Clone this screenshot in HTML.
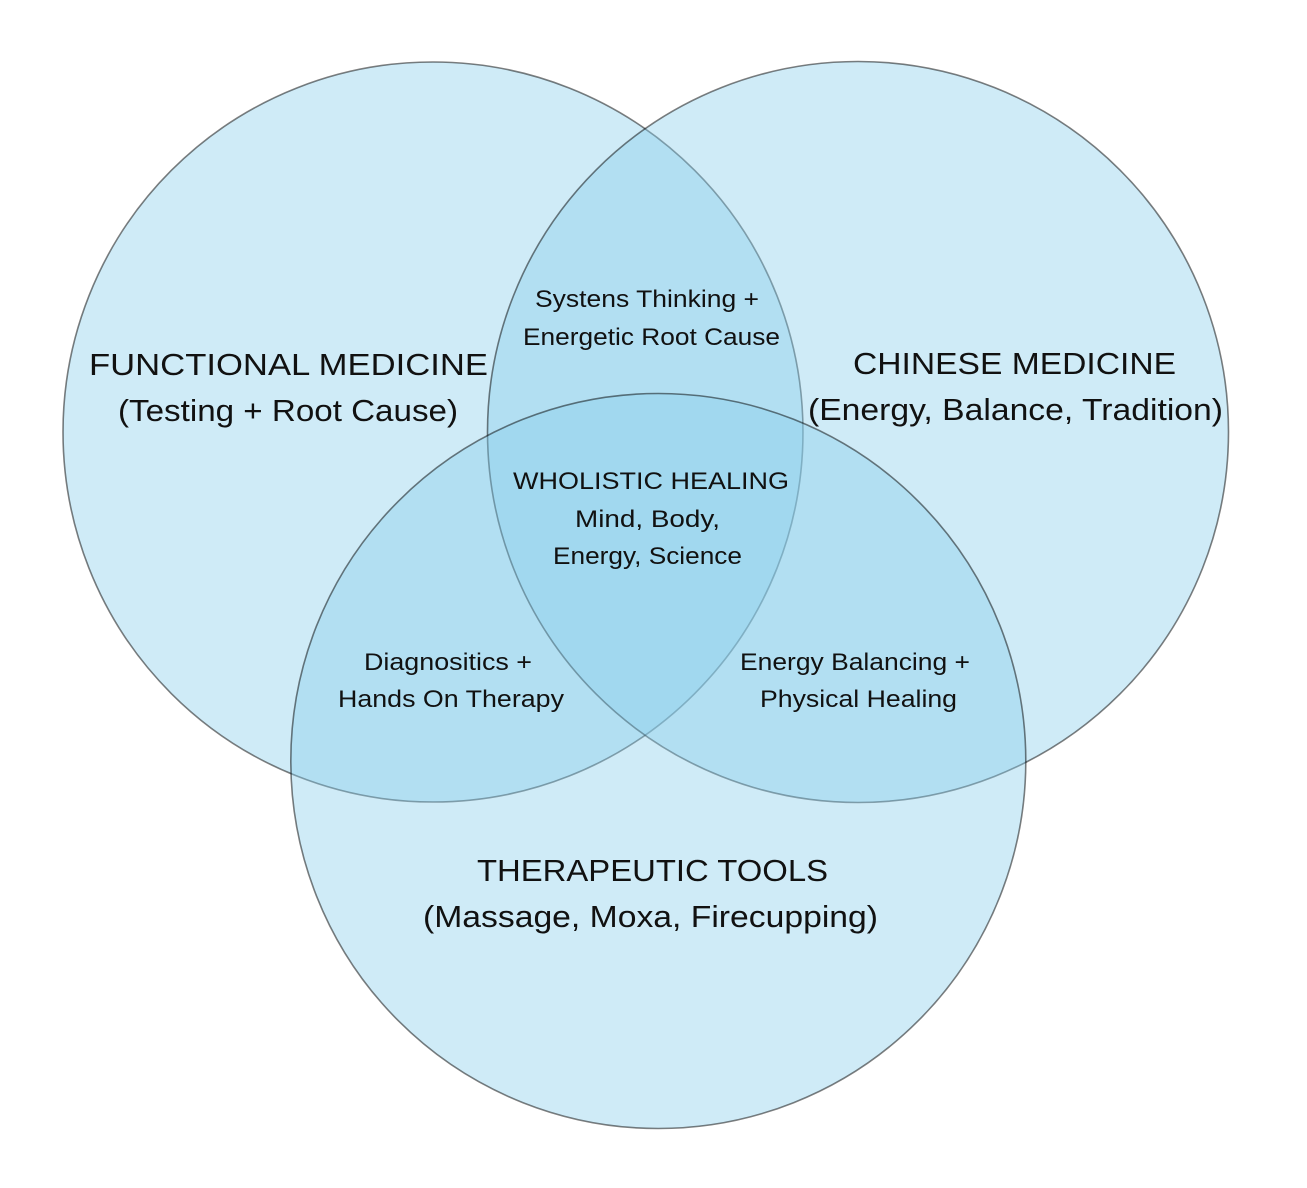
<!DOCTYPE html>
<html>
<head>
<meta charset="utf-8">
<style>
  html, body { margin:0; padding:0; background:#ffffff; }
  svg { display:block; }
  text { font-family: "Liberation Sans", "DejaVu Sans", sans-serif; fill:#111; }
</style>
</head>
<body>
<svg width="1307" height="1188" viewBox="0 0 1307 1188" xmlns="http://www.w3.org/2000/svg">
  <rect x="0" y="0" width="1307" height="1188" fill="#ffffff"/>
  <circle cx="433" cy="432" r="370" fill="#87ceeb" fill-opacity="0.4" stroke="#000" stroke-opacity="0.5" stroke-width="1.6"/>
  <circle cx="858" cy="432" r="370.5" fill="#87ceeb" fill-opacity="0.4" stroke="#000" stroke-opacity="0.5" stroke-width="1.6"/>
  <circle cx="658.3" cy="761" r="367.5" fill="#87ceeb" fill-opacity="0.4" stroke="#000" stroke-opacity="0.5" stroke-width="1.6"/>

  <!-- Big labels -->
  <text x="89" y="375" font-size="31" textLength="399" lengthAdjust="spacingAndGlyphs">FUNCTIONAL MEDICINE</text>
  <text x="118" y="421" font-size="31" textLength="340" lengthAdjust="spacingAndGlyphs">(Testing + Root Cause)</text>

  <text x="853" y="374" font-size="31" textLength="323" lengthAdjust="spacingAndGlyphs">CHINESE MEDICINE</text>
  <text x="808" y="420" font-size="31" textLength="415" lengthAdjust="spacingAndGlyphs">(Energy, Balance, Tradition)</text>

  <text x="477" y="881" font-size="31" textLength="351" lengthAdjust="spacingAndGlyphs">THERAPEUTIC TOOLS</text>
  <text x="423" y="927" font-size="31" textLength="455" lengthAdjust="spacingAndGlyphs">(Massage, Moxa, Firecupping)</text>

  <!-- Small labels -->
  <text x="535" y="307" font-size="24" textLength="224" lengthAdjust="spacingAndGlyphs">Systens Thinking +</text>
  <text x="523" y="345" font-size="24" textLength="257" lengthAdjust="spacingAndGlyphs">Energetic Root Cause</text>

  <text x="513" y="489" font-size="24" textLength="276" lengthAdjust="spacingAndGlyphs">WHOLISTIC HEALING</text>
  <text x="575" y="527" font-size="24" textLength="145" lengthAdjust="spacingAndGlyphs">Mind, Body,</text>
  <text x="553" y="564" font-size="24" textLength="189" lengthAdjust="spacingAndGlyphs">Energy, Science</text>

  <text x="364" y="670" font-size="24" textLength="168" lengthAdjust="spacingAndGlyphs">Diagnositics +</text>
  <text x="338" y="707" font-size="24" textLength="226" lengthAdjust="spacingAndGlyphs">Hands On Therapy</text>

  <text x="740" y="670" font-size="24" textLength="230" lengthAdjust="spacingAndGlyphs">Energy Balancing +</text>
  <text x="760" y="707" font-size="24" textLength="197" lengthAdjust="spacingAndGlyphs">Physical Healing</text>
</svg>
</body>
</html>
